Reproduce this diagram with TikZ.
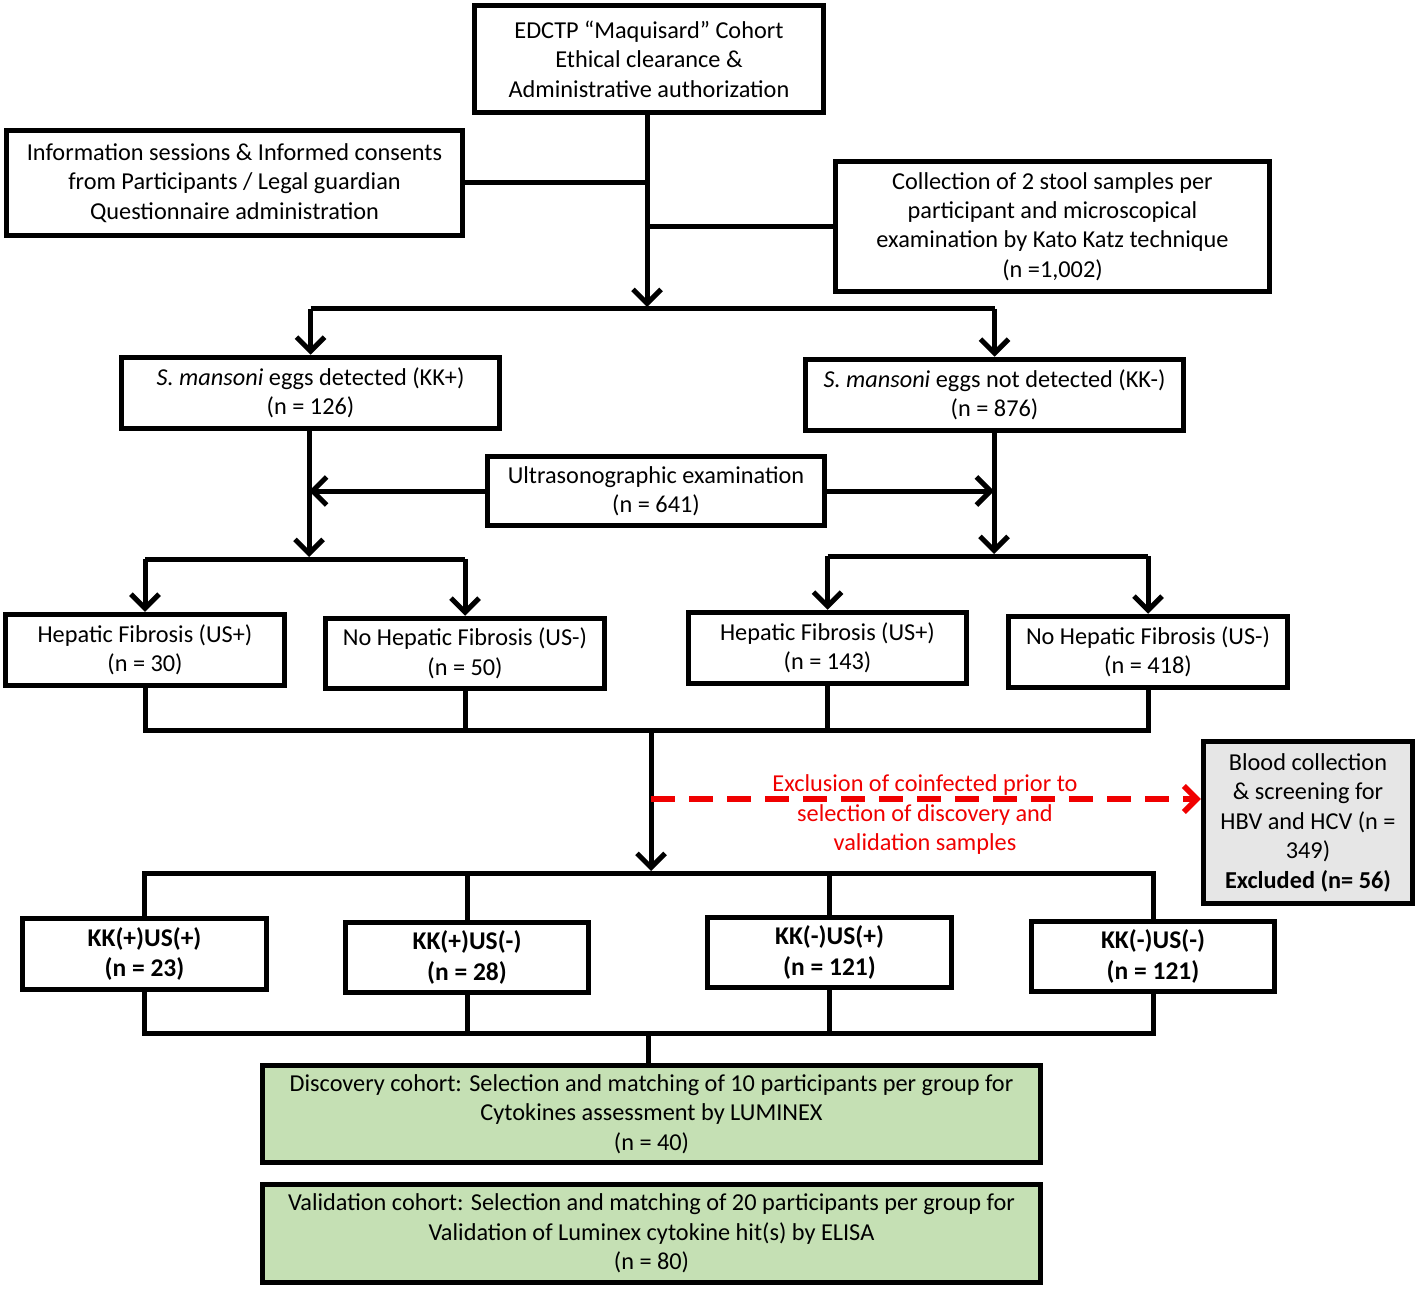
\documentclass[tikz,border=0pt]{standalone}
\usepackage{fontspec}
\setmainfont{Carlito}
\usetikzlibrary{arrows.meta,calc}
\definecolor{boxgreen}{HTML}{C5E0B4}
\definecolor{boxgray}{HTML}{E6E6E6}
\definecolor{exred}{HTML}{F00000}
\begin{document}
\begin{tikzpicture}[x=1pt,y=-1pt,
  box/.style={draw=black,line width=5.5pt,fill=white,inner sep=0pt,align=center,
    font=\fontsize{24.3}{29.5}\selectfont},
  gbox/.style={box,font=\fontsize{25.5}{30.5}\selectfont\bfseries},
  conn/.style={line width=5pt},
  arr/.style={line width=5pt,-{Straight Barb[length=14pt,width=28pt]}},
  redarr/.style={line width=5.5pt,draw=exred,dash pattern=on 24pt off 14pt,-{Straight Barb[length=13pt,width=26pt]}},
]
\useasboundingbox (0,0) rectangle (1417,1289);
% boxes
\node[box,minimum width=349pt,minimum height=107pt] (edctp) at (649,59) {EDCTP “Maquisard” Cohort\\Ethical clearance \&\\Administrative authorization};
\node[box,minimum width=456pt,minimum height=105pt] (info) at (234.5,183) {Information sessions \& Informed consents\\from Participants / Legal guardian\\Questionnaire administration};
\node[box,minimum width=434pt,minimum height=130pt] (coll) at (1052.5,226.5) {Collection of 2 stool samples per\\participant and microscopical\\examination by Kato Katz technique\\(n =1,002)};
\node[box,minimum width=378pt,minimum height=71pt] (kkp) at (310.5,393) {\textit{S. mansoni} eggs detected (KK+)\\(n = 126)};
\node[box,minimum width=378pt,minimum height=71pt] (kkm) at (994.5,395) {\textit{S. mansoni} eggs not detected (KK-)\\(n = 876)};
\node[box,minimum width=337pt,minimum height=69pt] (us) at (656,491) {Ultrasonographic examination\\(n = 641)};
\node[box,minimum width=279pt,minimum height=71pt] (hfa) at (145,650) {Hepatic Fibrosis (US+)\\(n = 30)};
\node[box,minimum width=279pt,minimum height=70pt] (nhfa) at (465,653.5) {No Hepatic Fibrosis (US-)\\(n = 50)};
\node[box,minimum width=278pt,minimum height=71pt] (hfb) at (827.5,648) {Hepatic Fibrosis (US+)\\(n = 143)};
\node[box,minimum width=279pt,minimum height=71pt] (nhfb) at (1148,652) {No Hepatic Fibrosis (US-)\\(n = 418)};
\node[box,fill=boxgray,minimum width=209pt,minimum height=162pt] (blood) at (1308,822.5) {Blood collection\\\& screening for\\HBV and HCV (n =\\349)\\\textbf{Excluded (n= 56)}};
\node[gbox,minimum width=244pt,minimum height=71pt] (ga) at (144.5,954) {KK(+)US(+)\\(n = 23)};
\node[gbox,minimum width=243pt,minimum height=70pt] (gb) at (467,957.5) {KK(+)US(-)\\(n = 28)};
\node[gbox,minimum width=244pt,minimum height=70pt] (gc) at (829.5,952.5) {KK(-)US(+)\\(n = 121)};
\node[gbox,minimum width=243pt,minimum height=70pt] (gd) at (1153,956.5) {KK(-)US(-)\\(n = 121)};
\node[box,fill=boxgreen,minimum width=778pt,minimum height=97pt] (disc) at (651.5,1114) {Discovery cohort: Selection and matching of 10 participants per group for\\Cytokines assessment by LUMINEX\\(n = 40)};
\node[box,fill=boxgreen,minimum width=778pt,minimum height=98pt] (val) at (651.5,1233.5) {Validation cohort: Selection and matching of 20 participants per group for\\Validation of Luminex cytokine hit(s) by ELISA\\(n = 80)};
\node[align=center,text=exred,font=\fontsize{24.3}{29.5}\selectfont] (exlabel) at (925,815) {Exclusion of coinfected prior to\\selection of discovery and\\validation samples};
% junction coordinates
\coordinate (s1) at (647,309);
\coordinate (s2) at (309,559);
\coordinate (s3) at (994,556);
\coordinate (m1) at (651,730);
\coordinate (s4) at (651,873);
\coordinate (m2) at (648,1033);
\coordinate (r1) at (651,799);
% top part
\draw[conn] (info.east) -- (info.east -| s1);
\draw[conn] (coll.west) -- (coll.west -| s1);
\draw[arr] (s1 |- edctp.south) -- ($(s1)+(0,-2)$);
\draw[conn] (s1 -| kkp.north) -- (s1 -| kkm.north);
\draw[arr] (s1 -| kkp.north) -- (kkp.north);
\draw[arr] (s1 -| kkm.north) -- (kkm.north);
% KK+ branch
\draw[arr] (s2 |- kkp.south) -- ($(s2)+(0,-2)$);
\draw[arr] (us.west) -- (us.west -| s2);
\draw[conn] (s2 -| hfa.north) -- (s2 -| nhfa.north);
\draw[arr] (s2 -| hfa.north) -- (hfa.north);
\draw[arr] (s2 -| nhfa.north) -- (nhfa.north);
% KK- branch
\draw[arr] (s3 |- kkm.south) -- ($(s3)+(0,-2)$);
\draw[arr] (us.east) -- (us.east -| s3);
\draw[conn] (s3 -| hfb.north) -- (s3 -| nhfb.north);
\draw[arr] (s3 -| hfb.north) -- (hfb.north);
\draw[arr] (s3 -| nhfb.north) -- (nhfb.north);
% merge
\draw[conn] (hfa.south) -- (hfa.south |- m1);
\draw[conn] (nhfa.south) -- (nhfa.south |- m1);
\draw[conn] (hfb.south) -- (hfb.south |- m1);
\draw[conn] (nhfb.south) -- (nhfb.south |- m1);
\draw[conn,line cap=rect] (m1 -| hfa.south) -- (m1 -| nhfb.south);
\draw[arr] (m1) -- ($(s4)+(0,-2)$);
\draw[redarr] (r1) -- (r1 -| blood.west);
% lower split
\draw[conn,line cap=rect] (s4 -| ga.north) -- (s4 -| gd.north);
\draw[conn] (s4 -| ga.north) -- (ga.north);
\draw[conn] (s4 -| gb.north) -- (gb.north);
\draw[conn] (s4 -| gc.north) -- (gc.north);
\draw[conn] (s4 -| gd.north) -- (gd.north);
% bottom merge
\draw[conn] (ga.south) -- (ga.south |- m2);
\draw[conn] (gb.south) -- (gb.south |- m2);
\draw[conn] (gc.south) -- (gc.south |- m2);
\draw[conn] (gd.south) -- (gd.south |- m2);
\draw[conn,line cap=rect] (m2 -| ga.south) -- (m2 -| gd.south);
\draw[conn] (m2) -- (m2 |- disc.north);
\end{tikzpicture}
\end{document}
